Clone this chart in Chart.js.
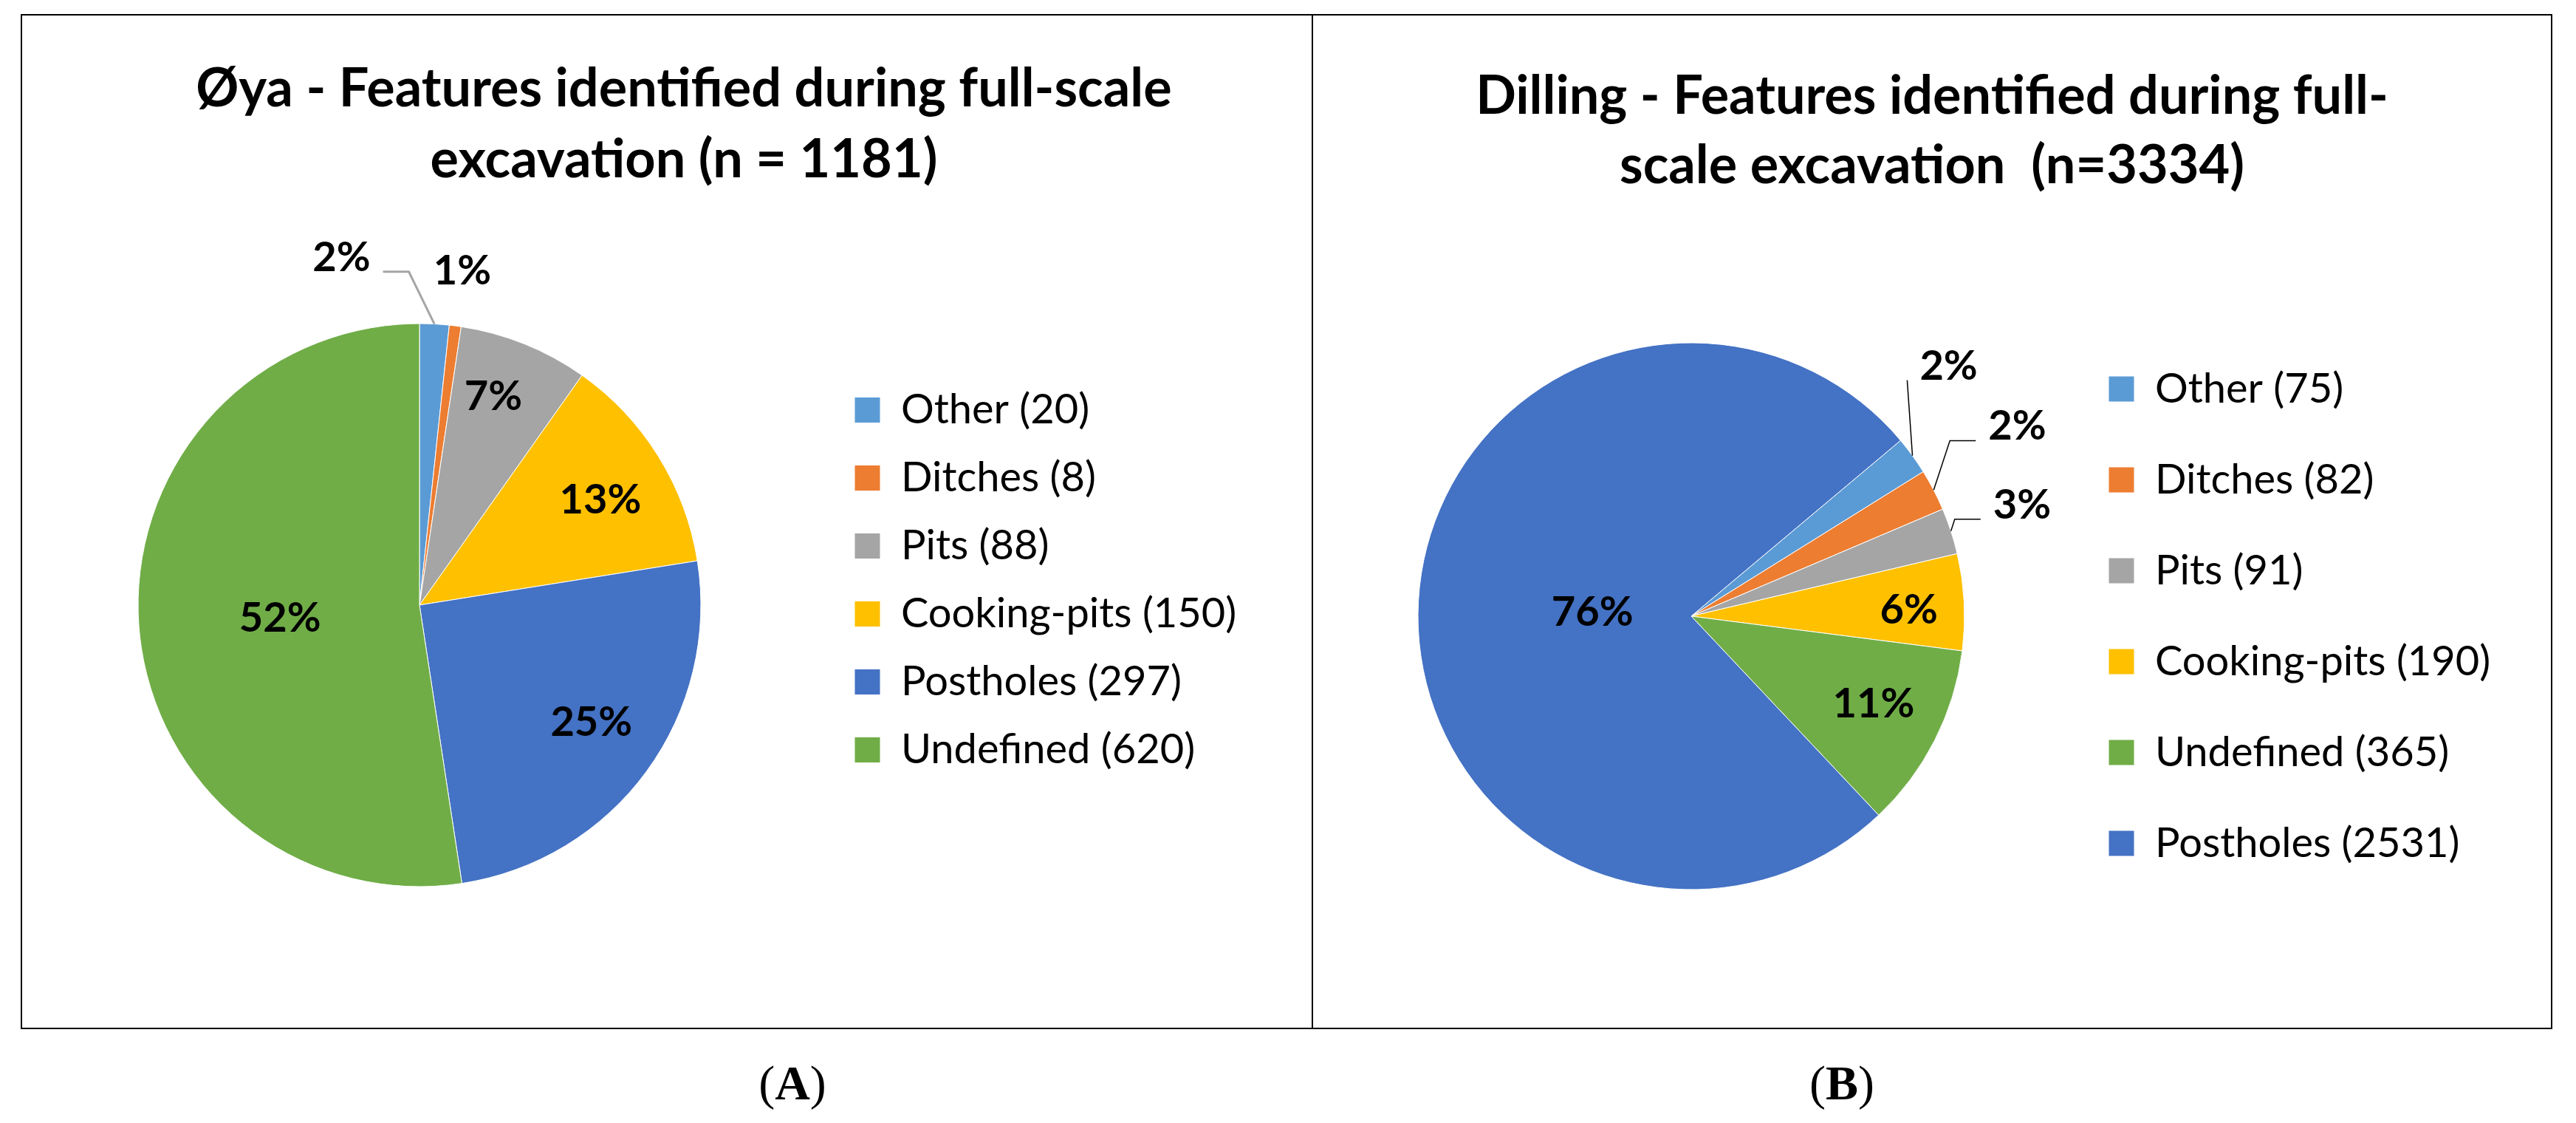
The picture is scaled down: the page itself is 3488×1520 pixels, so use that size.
<!DOCTYPE html>
<html>
<head>
<meta charset="utf-8">
<title>Features identified during full-scale excavation</title>
<script src="https://cdn.jsdelivr.net/npm/chart.js@4.4.1/dist/chart.umd.min.js"></script>
<style>
  html, body { margin: 0; padding: 0; background: #fff; }
  body { width: 3488px; height: 1520px; position: relative; overflow: hidden; }
  .frame { position: absolute; left: 28px; top: 19px; width: 3428px; height: 1374px; border: 2px solid #000; box-sizing: border-box; }
  .divider { position: absolute; left: 1776px; top: 19px; width: 2px; height: 1374px; background: #000; }
  canvas { position: absolute; top: 0; }
  #oya { left: 0; }
  #dilling { left: 1777px; }
  .panel-label { position: absolute; top: 1433px; width: 200px; text-align: center; font: 66px/66px "Liberation Serif", serif; color: #000; }
</style>
</head>
<body>
<div class="frame"></div>
<div class="divider"></div>
<canvas id="oya" width="1850" height="1300"></canvas>
<canvas id="dilling" width="1711" height="1300"></canvas>
<div class="panel-label" style="left: 973px">(<b>A</b>)</div>
<div class="panel-label" style="left: 2394px">(<b>B</b>)</div>
<script>
"use strict";

const oyaTitle = ["Øya - Features identified during full-scale", "excavation (n = 1181)"];
const oyaFeatures = ["Other", "Ditches", "Pits", "Cooking-pits", "Postholes", "Undefined"];
const oyaCounts = [20, 8, 88, 150, 297, 620];

const dillingTitle = ["Dilling - Features identified during full-", "scale excavation  (n=3334)"];
const dillingFeatures = ["Other", "Ditches", "Pits", "Cooking-pits", "Undefined", "Postholes"];
const dillingCounts = [75, 82, 91, 190, 365, 2531];

const featureColors = {
  Other: "#5B9BD5",
  Ditches: "#ED7D31",
  Pits: "#A5A5A5",
  "Cooking-pits": "#FFC000",
  Postholes: "#4472C4",
  Undefined: "#70AD47",
};

const LEGEND_FONT = 56;
const LEGEND_BOX = 35;

Chart.defaults.font.family = "Lato";

// percentage labels on the slices, leader lines for the thin ones.
// spot.r = distance in radii, spot.turn = degrees off the slice middle
const sliceLabels = {
  id: "sliceLabels",
  afterDatasetsDraw(chart, args, opts) {
    const ctx = chart.ctx;
    const values = chart.data.datasets[0].data;
    const total = values.reduce((sum, v) => sum + v, 0);
    ctx.save();
    ctx.font = `bold ${opts.size}px Lato`;
    ctx.fillStyle = "#000";
    ctx.textAlign = "center";
    ctx.textBaseline = "middle";
    ctx.strokeStyle = opts.lineColor;
    ctx.lineWidth = opts.lineWidth;
    chart.getDatasetMeta(0).data.forEach((arc, i) => {
      const { x, y, startAngle, endAngle, outerRadius } = arc.getProps(
        ["x", "y", "startAngle", "endAngle", "outerRadius"],
        true
      );
      const spot = opts.spots[i];
      const mid = (startAngle + endAngle) / 2;
      const angle = mid + (spot.turn * Math.PI) / 180;
      const lx = x + Math.cos(angle) * outerRadius * spot.r;
      const ly = y + Math.sin(angle) * outerRadius * spot.r;
      const text = Math.round((values[i] / total) * 100) + "%";

      if (spot.leader) {
        const sx = x + Math.cos(mid) * outerRadius;
        const sy = y + Math.sin(mid) * outerRadius;
        const half = ctx.measureText(text).width / 2 + 17;
        const ey = ly + opts.size * 0.34;
        let ex, bx;
        if (lx >= sx) {
          ex = lx - half;
          bx = ex - Math.min(35, Math.max(0, ex - sx));
        } else {
          ex = lx + half;
          bx = ex + Math.min(35, Math.max(0, sx - ex));
        }
        ctx.beginPath();
        ctx.moveTo(sx, sy);
        ctx.lineTo(bx, ey);
        ctx.lineTo(ex, ey);
        ctx.stroke();
      }
      ctx.fillText(text, lx, ly);
    });
    ctx.restore();
  },
};

// width chart.js will give the legend column (same sum as its fit code)
function legendWidth(labels, gap) {
  const ctx = document.createElement("canvas").getContext("2d");
  ctx.font = `${LEGEND_FONT}px Lato`;
  const widest = Math.max(...labels.map((t) => ctx.measureText(t).width));
  return gap + LEGEND_BOX + LEGEND_FONT / 2 + widest + 10;
}

function makePie(canvasId, setup) {
  const labels = setup.features.map((f, i) => `${f} (${setup.counts[i]})`);
  const spacer = Math.max(1, setup.sideWidth - legendWidth(labels, setup.legendGap));

  return new Chart(document.getElementById(canvasId), {
    type: "pie",
    data: {
      labels: labels,
      datasets: [
        {
          data: setup.counts,
          backgroundColor: setup.features.map((f) => featureColors[f]),
          borderColor: "#fff",
          borderWidth: 1,
          hoverOffset: 0,
          radius: setup.radius,
          rotation: setup.rotation,
        },
      ],
    },
    plugins: [sliceLabels],
    options: {
      responsive: false,
      animation: false,
      devicePixelRatio: 1,
      events: [],
      layout: { padding: setup.padding },
      plugins: {
        title: {
          display: true,
          text: setup.title,
          color: "#000",
          font: { size: 72, weight: "bold", lineHeight: setup.titleLine },
          padding: setup.titlePadding,
        },
        // empty box right of the legend, keeps the title centred on the frame
        subtitle: {
          display: true,
          position: "right",
          text: "",
          font: { size: 1, lineHeight: 1 },
          padding: { top: 0, bottom: spacer - 1 },
        },
        legend: {
          position: "right",
          fullSize: false,
          align: setup.legendAlign,
          maxWidth: 2000,
          labels: {
            color: "#000",
            font: { size: LEGEND_FONT },
            boxWidth: LEGEND_BOX,
            boxHeight: LEGEND_BOX,
            padding: setup.legendGap,
          },
        },
        tooltip: { enabled: false },
        sliceLabels: {
          size: 56,
          lineColor: setup.lineColor,
          lineWidth: setup.lineWidth,
          spots: setup.spots,
        },
      },
    },
  });
}

makePie("oya", {
  title: oyaTitle,
  features: oyaFeatures,
  counts: oyaCounts,
  radius: 381,
  rotation: 0,
  padding: { left: 15, right: 13, top: 0, bottom: 153 },
  titleLine: "96px",
  titlePadding: { top: 73, bottom: 226 },
  sideWidth: 716,
  legendAlign: "start",
  legendGap: 36,
  lineColor: "#A5A5A5",
  lineWidth: 3,
  spots: [
    { r: 1.265, turn: -15.7, leader: true },
    { r: 1.197, turn: 0, leader: false },
    { r: 0.785, turn: -2.4, leader: false },
    { r: 0.743, turn: 1.8, leader: false },
    { r: 0.74, turn: -1.8, leader: false },
    { r: 0.498, turn: -1.1, leader: false },
  ],
});

makePie("dilling", {
  title: dillingTitle,
  features: dillingFeatures,
  counts: dillingCounts,
  radius: 370,
  rotation: 50,
  padding: { left: 15, right: 48, top: 0, bottom: 52 },
  titleLine: "94px",
  titlePadding: { top: 84, bottom: 148 },
  sideWidth: 652,
  legendAlign: "center",
  legendGap: 67,
  lineColor: "#000",
  lineWidth: 1.5,
  spots: [
    { r: 1.313, turn: -8.2, leader: true },
    { r: 1.38, turn: -2.7, leader: true },
    { r: 1.277, turn: -0.4, leader: true },
    { r: 0.797, turn: 1.3, leader: false },
    { r: 0.741, turn: -1.3, leader: false },
    { r: 0.362, turn: -1.3, leader: false },
  ],
});
</script>
</body>
</html>
